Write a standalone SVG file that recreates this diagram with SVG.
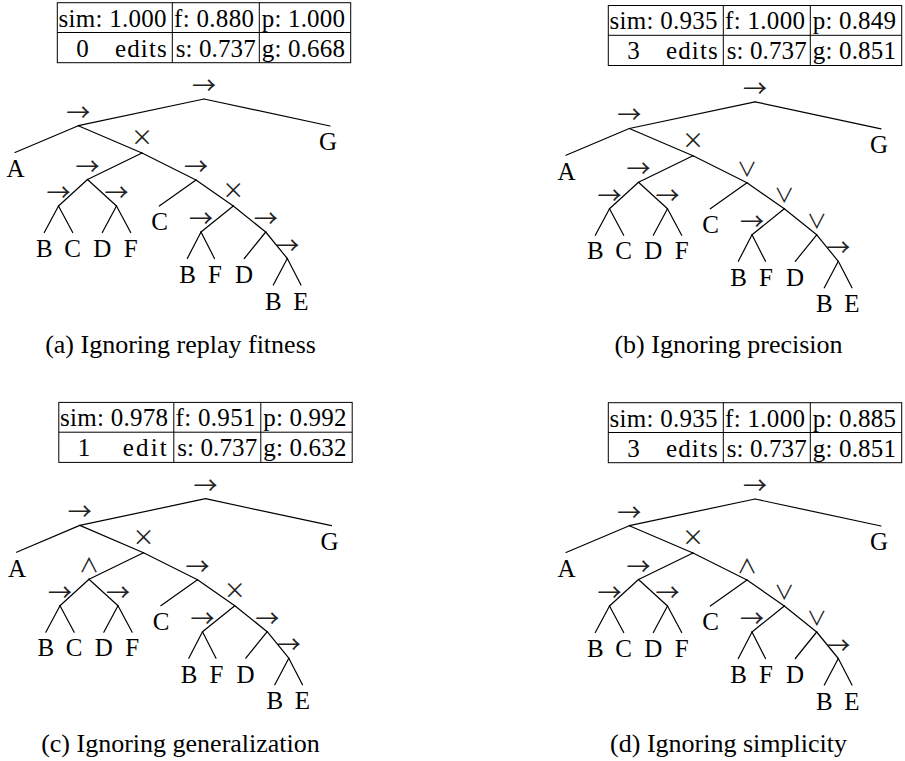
<svg xmlns="http://www.w3.org/2000/svg" width="905" height="761" viewBox="0 0 905 761">
  <style>
    .bg { fill: #ffffff; }
    .edge { stroke: #000; stroke-width: 1.2; stroke-linecap: round; fill: none; }
    .grid { stroke: #000; stroke-width: 1; fill: none; }
    text { font-family: "Liberation Serif", "DejaVu Serif", serif; fill: #000; }
    .cell { font-size: 25px; }
    .num { font-size: 25px; text-anchor: middle; }
    .leaf { font-size: 25px; text-anchor: middle; }
    .seq, .xor, .logic { text-anchor: middle; font-family: "Noto Sans CJK JP", "DejaVu Sans", sans-serif; fill: #222; }
    .seq { font-size: 24px; }
    .xor { font-size: 22px; }
    .logic { font-size: 20px; }
    .caption { font-size: 26px; text-anchor: middle; }
  </style>
  <rect class="bg" x="0" y="0" width="905" height="761"/>

  <!-- ===================== Panel (a) ===================== -->
  <g id="panel-a" transform="translate(0,0)">
    <g id="a-table">
      <rect class="grid" x="57.3" y="2.7" width="293.4" height="60"/>
      <line class="grid" x1="57.3" y1="32.5" x2="350.7" y2="32.5"/>
      <line class="grid" x1="172.3" y1="2.7" x2="172.3" y2="62.7"/>
      <line class="grid" x1="259.3" y1="2.7" x2="259.3" y2="62.7"/>
      <text class="cell" x="58.5" y="26.7" textLength="108" lengthAdjust="spacing">sim: 1.000</text>
      <text class="cell" x="174" y="26.7" textLength="80" lengthAdjust="spacing">f: 0.880</text>
      <text class="cell" x="261.7" y="26.7" textLength="83.3" lengthAdjust="spacing">p: 1.000</text>
      <text class="num" x="82.5" y="56.7">0</text>
      <text class="cell" x="115" y="56.7" textLength="51.7" lengthAdjust="spacing">edits</text>
      <text class="cell" x="175.7" y="56.7" textLength="80" lengthAdjust="spacing">s: 0.737</text>
      <text class="cell" x="261.7" y="56.7" textLength="83.3" lengthAdjust="spacing">g: 0.668</text>
    </g>
    <g id="a-connectors">
      <line class="edge" x1="204" y1="99" x2="78.3" y2="125.7"/>
      <line class="edge" x1="204" y1="99" x2="330" y2="126"/>
      <line class="edge" x1="78.3" y1="125.7" x2="15" y2="152.5"/>
      <line class="edge" x1="78.3" y1="125.7" x2="142" y2="153"/>
      <line class="edge" x1="142" y1="153" x2="87.5" y2="179.5"/>
      <line class="edge" x1="142" y1="153" x2="196" y2="180"/>
      <line class="edge" x1="87.5" y1="179.5" x2="58.5" y2="206"/>
      <line class="edge" x1="87.5" y1="179.5" x2="116.5" y2="206"/>
      <line class="edge" x1="58.5" y1="206" x2="44.3" y2="232.5"/>
      <line class="edge" x1="58.5" y1="206" x2="72.7" y2="232.5"/>
      <line class="edge" x1="116.5" y1="206" x2="102.3" y2="232.5"/>
      <line class="edge" x1="116.5" y1="206" x2="130.7" y2="232.5"/>
      <line class="edge" x1="196" y1="180" x2="159.3" y2="206"/>
      <line class="edge" x1="196" y1="180" x2="233.3" y2="206"/>
      <line class="edge" x1="233.3" y1="206" x2="201" y2="232"/>
      <line class="edge" x1="233.3" y1="206" x2="265.7" y2="232"/>
      <line class="edge" x1="201" y1="232" x2="187.3" y2="258.5"/>
      <line class="edge" x1="201" y1="232" x2="214.5" y2="258.5"/>
      <line class="edge" x1="265.7" y1="232" x2="244.3" y2="258.5"/>
      <line class="edge" x1="265.7" y1="232" x2="287.3" y2="258.5"/>
      <line class="edge" x1="287.3" y1="258.5" x2="273.3" y2="285"/>
      <line class="edge" x1="287.3" y1="258.5" x2="301" y2="285"/>
    </g>
    <g id="a-root"><text class="seq" x="204" y="94">→</text></g>
    <g id="a-n1"><text class="seq" x="78.3" y="120.7">→</text></g>
    <g id="a-x1"><text class="xor" x="142" y="145">×</text></g>
    <g id="a-n11"><text class="seq" x="87.5" y="174.5">→</text></g>
    <g id="a-n111"><text class="seq" x="58.5" y="201">→</text></g>
    <g id="a-n112"><text class="seq" x="116.5" y="201">→</text></g>
    <g id="a-n12"><text class="seq" x="196" y="175">→</text></g>
    <g id="a-x2"><text class="xor" x="233.3" y="198">×</text></g>
    <g id="a-n21"><text class="seq" x="201" y="227">→</text></g>
    <g id="a-n22"><text class="seq" x="265.7" y="227">→</text></g>
    <g id="a-n23"><text class="seq" x="287.3" y="253.5">→</text></g>
    <g id="a-leaf-A"><text class="leaf" x="15.5" y="177">A</text></g>
    <g id="a-leaf-G"><text class="leaf" x="328" y="150">G</text></g>
    <g id="a-leaf-B1"><text class="leaf" x="44.3" y="256.5">B</text></g>
    <g id="a-leaf-C1"><text class="leaf" x="72.7" y="256.5">C</text></g>
    <g id="a-leaf-D1"><text class="leaf" x="102.3" y="256.5">D</text></g>
    <g id="a-leaf-F1"><text class="leaf" x="130.7" y="256.5">F</text></g>
    <g id="a-leaf-C2"><text class="leaf" x="159.5" y="230">C</text></g>
    <g id="a-leaf-B2"><text class="leaf" x="187.5" y="283">B</text></g>
    <g id="a-leaf-F2"><text class="leaf" x="215" y="283">F</text></g>
    <g id="a-leaf-D2"><text class="leaf" x="244" y="283">D</text></g>
    <g id="a-leaf-B3"><text class="leaf" x="273.3" y="309.5">B</text></g>
    <g id="a-leaf-E"><text class="leaf" x="301" y="309.5">E</text></g>
  </g>
  <text class="caption" x="180.5" y="353.3">(a) Ignoring replay fitness</text>

  <!-- ===================== Panel (b) ===================== -->
  <g id="panel-b" transform="translate(551,2.8)">
    <g id="b-table">
      <rect class="grid" x="57.3" y="2.7" width="293.4" height="60"/>
      <line class="grid" x1="57.3" y1="32.5" x2="350.7" y2="32.5"/>
      <line class="grid" x1="172.3" y1="2.7" x2="172.3" y2="62.7"/>
      <line class="grid" x1="259.3" y1="2.7" x2="259.3" y2="62.7"/>
      <text class="cell" x="58.5" y="26.7" textLength="108" lengthAdjust="spacing">sim: 0.935</text>
      <text class="cell" x="174" y="26.7" textLength="80" lengthAdjust="spacing">f: 1.000</text>
      <text class="cell" x="261.7" y="26.7" textLength="83.3" lengthAdjust="spacing">p: 0.849</text>
      <text class="num" x="82.5" y="56.7">3</text>
      <text class="cell" x="115" y="56.7" textLength="51.7" lengthAdjust="spacing">edits</text>
      <text class="cell" x="175.7" y="56.7" textLength="80" lengthAdjust="spacing">s: 0.737</text>
      <text class="cell" x="261.7" y="56.7" textLength="83.3" lengthAdjust="spacing">g: 0.851</text>
    </g>
    <g id="b-connectors">
      <line class="edge" x1="204" y1="99" x2="78.3" y2="125.7"/>
      <line class="edge" x1="204" y1="99" x2="330" y2="126"/>
      <line class="edge" x1="78.3" y1="125.7" x2="15" y2="152.5"/>
      <line class="edge" x1="78.3" y1="125.7" x2="142" y2="153"/>
      <line class="edge" x1="142" y1="153" x2="87.5" y2="179.5"/>
      <line class="edge" x1="142" y1="153" x2="196" y2="180"/>
      <line class="edge" x1="87.5" y1="179.5" x2="58.5" y2="206"/>
      <line class="edge" x1="87.5" y1="179.5" x2="116.5" y2="206"/>
      <line class="edge" x1="58.5" y1="206" x2="44.3" y2="232.5"/>
      <line class="edge" x1="58.5" y1="206" x2="72.7" y2="232.5"/>
      <line class="edge" x1="116.5" y1="206" x2="102.3" y2="232.5"/>
      <line class="edge" x1="116.5" y1="206" x2="130.7" y2="232.5"/>
      <line class="edge" x1="196" y1="180" x2="159.3" y2="206"/>
      <line class="edge" x1="196" y1="180" x2="233.3" y2="206"/>
      <line class="edge" x1="233.3" y1="206" x2="201" y2="232"/>
      <line class="edge" x1="233.3" y1="206" x2="265.7" y2="232"/>
      <line class="edge" x1="201" y1="232" x2="187.3" y2="258.5"/>
      <line class="edge" x1="201" y1="232" x2="214.5" y2="258.5"/>
      <line class="edge" x1="265.7" y1="232" x2="244.3" y2="258.5"/>
      <line class="edge" x1="265.7" y1="232" x2="287.3" y2="258.5"/>
      <line class="edge" x1="287.3" y1="258.5" x2="273.3" y2="285"/>
      <line class="edge" x1="287.3" y1="258.5" x2="301" y2="285"/>
    </g>
    <g id="b-root"><text class="seq" x="204" y="94">→</text></g>
    <g id="b-n1"><text class="seq" x="78.3" y="120.7">→</text></g>
    <g id="b-x1"><text class="xor" x="142" y="145">×</text></g>
    <g id="b-n11"><text class="seq" x="87.5" y="174.5">→</text></g>
    <g id="b-n111"><text class="seq" x="58.5" y="201">→</text></g>
    <g id="b-n112"><text class="seq" x="116.5" y="201">→</text></g>
    <g id="b-n12"><text class="logic" x="196" y="174">∨</text></g>
    <g id="b-x2"><text class="logic" x="233.3" y="200">∨</text></g>
    <g id="b-n21"><text class="seq" x="201" y="227">→</text></g>
    <g id="b-n22"><text class="logic" x="265.7" y="226">∨</text></g>
    <g id="b-n23"><text class="seq" x="287.3" y="253.5">→</text></g>
    <g id="b-leaf-A"><text class="leaf" x="15.5" y="177">A</text></g>
    <g id="b-leaf-G"><text class="leaf" x="328" y="150">G</text></g>
    <g id="b-leaf-B1"><text class="leaf" x="44.3" y="256.5">B</text></g>
    <g id="b-leaf-C1"><text class="leaf" x="72.7" y="256.5">C</text></g>
    <g id="b-leaf-D1"><text class="leaf" x="102.3" y="256.5">D</text></g>
    <g id="b-leaf-F1"><text class="leaf" x="130.7" y="256.5">F</text></g>
    <g id="b-leaf-C2"><text class="leaf" x="159.5" y="230">C</text></g>
    <g id="b-leaf-B2"><text class="leaf" x="187.5" y="283">B</text></g>
    <g id="b-leaf-F2"><text class="leaf" x="215" y="283">F</text></g>
    <g id="b-leaf-D2"><text class="leaf" x="244" y="283">D</text></g>
    <g id="b-leaf-B3"><text class="leaf" x="273.3" y="309.5">B</text></g>
    <g id="b-leaf-E"><text class="leaf" x="301" y="309.5">E</text></g>
  </g>
  <text class="caption" x="728.5" y="353.3">(b) Ignoring precision</text>

  <!-- ===================== Panel (c) ===================== -->
  <g id="panel-c" transform="translate(1.5,399.7)">
    <g id="c-table">
      <rect class="grid" x="57.3" y="2.7" width="293.4" height="60"/>
      <line class="grid" x1="57.3" y1="32.5" x2="350.7" y2="32.5"/>
      <line class="grid" x1="172.3" y1="2.7" x2="172.3" y2="62.7"/>
      <line class="grid" x1="259.3" y1="2.7" x2="259.3" y2="62.7"/>
      <text class="cell" x="58.5" y="26.7" textLength="108" lengthAdjust="spacing">sim: 0.978</text>
      <text class="cell" x="174" y="26.7" textLength="80" lengthAdjust="spacing">f: 0.951</text>
      <text class="cell" x="261.7" y="26.7" textLength="83.3" lengthAdjust="spacing">p: 0.992</text>
      <text class="num" x="82.5" y="56.7">1</text>
      <text class="cell" x="121.2" y="56.7" textLength="44" lengthAdjust="spacing">edit</text>
      <text class="cell" x="175.7" y="56.7" textLength="80" lengthAdjust="spacing">s: 0.737</text>
      <text class="cell" x="261.7" y="56.7" textLength="83.3" lengthAdjust="spacing">g: 0.632</text>
    </g>
    <g id="c-connectors">
      <line class="edge" x1="204" y1="99" x2="78.3" y2="125.7"/>
      <line class="edge" x1="204" y1="99" x2="330" y2="126"/>
      <line class="edge" x1="78.3" y1="125.7" x2="15" y2="152.5"/>
      <line class="edge" x1="78.3" y1="125.7" x2="142" y2="153"/>
      <line class="edge" x1="142" y1="153" x2="87.5" y2="179.5"/>
      <line class="edge" x1="142" y1="153" x2="196" y2="180"/>
      <line class="edge" x1="87.5" y1="179.5" x2="58.5" y2="206"/>
      <line class="edge" x1="87.5" y1="179.5" x2="116.5" y2="206"/>
      <line class="edge" x1="58.5" y1="206" x2="44.3" y2="232.5"/>
      <line class="edge" x1="58.5" y1="206" x2="72.7" y2="232.5"/>
      <line class="edge" x1="116.5" y1="206" x2="102.3" y2="232.5"/>
      <line class="edge" x1="116.5" y1="206" x2="130.7" y2="232.5"/>
      <line class="edge" x1="196" y1="180" x2="159.3" y2="206"/>
      <line class="edge" x1="196" y1="180" x2="233.3" y2="206"/>
      <line class="edge" x1="233.3" y1="206" x2="201" y2="232"/>
      <line class="edge" x1="233.3" y1="206" x2="265.7" y2="232"/>
      <line class="edge" x1="201" y1="232" x2="187.3" y2="258.5"/>
      <line class="edge" x1="201" y1="232" x2="214.5" y2="258.5"/>
      <line class="edge" x1="265.7" y1="232" x2="244.3" y2="258.5"/>
      <line class="edge" x1="265.7" y1="232" x2="287.3" y2="258.5"/>
      <line class="edge" x1="287.3" y1="258.5" x2="273.3" y2="285"/>
      <line class="edge" x1="287.3" y1="258.5" x2="301" y2="285"/>
    </g>
    <g id="c-root"><text class="seq" x="204" y="94">→</text></g>
    <g id="c-n1"><text class="seq" x="78.3" y="120.7">→</text></g>
    <g id="c-x1"><text class="xor" x="142" y="145">×</text></g>
    <g id="c-n11"><text class="logic" x="87.5" y="173.5">∧</text></g>
    <g id="c-n111"><text class="seq" x="58.5" y="201">→</text></g>
    <g id="c-n112"><text class="seq" x="116.5" y="201">→</text></g>
    <g id="c-n12"><text class="seq" x="196" y="175">→</text></g>
    <g id="c-x2"><text class="xor" x="233.3" y="198">×</text></g>
    <g id="c-n21"><text class="seq" x="201" y="227">→</text></g>
    <g id="c-n22"><text class="seq" x="265.7" y="227">→</text></g>
    <g id="c-n23"><text class="seq" x="287.3" y="253.5">→</text></g>
    <g id="c-leaf-A"><text class="leaf" x="15.5" y="177">A</text></g>
    <g id="c-leaf-G"><text class="leaf" x="328" y="150">G</text></g>
    <g id="c-leaf-B1"><text class="leaf" x="44.3" y="256.5">B</text></g>
    <g id="c-leaf-C1"><text class="leaf" x="72.7" y="256.5">C</text></g>
    <g id="c-leaf-D1"><text class="leaf" x="102.3" y="256.5">D</text></g>
    <g id="c-leaf-F1"><text class="leaf" x="130.7" y="256.5">F</text></g>
    <g id="c-leaf-C2"><text class="leaf" x="159.5" y="230">C</text></g>
    <g id="c-leaf-B2"><text class="leaf" x="187.5" y="283">B</text></g>
    <g id="c-leaf-F2"><text class="leaf" x="215" y="283">F</text></g>
    <g id="c-leaf-D2"><text class="leaf" x="244" y="283">D</text></g>
    <g id="c-leaf-B3"><text class="leaf" x="273.3" y="309.5">B</text></g>
    <g id="c-leaf-E"><text class="leaf" x="301" y="309.5">E</text></g>
  </g>
  <text class="caption" x="180.5" y="751.7">(c) Ignoring generalization</text>

  <!-- ===================== Panel (d) ===================== -->
  <g id="panel-d" transform="translate(551,400)">
    <g id="d-table">
      <rect class="grid" x="57.3" y="2.7" width="293.4" height="60"/>
      <line class="grid" x1="57.3" y1="32.5" x2="350.7" y2="32.5"/>
      <line class="grid" x1="172.3" y1="2.7" x2="172.3" y2="62.7"/>
      <line class="grid" x1="259.3" y1="2.7" x2="259.3" y2="62.7"/>
      <text class="cell" x="58.5" y="26.7" textLength="108" lengthAdjust="spacing">sim: 0.935</text>
      <text class="cell" x="174" y="26.7" textLength="80" lengthAdjust="spacing">f: 1.000</text>
      <text class="cell" x="261.7" y="26.7" textLength="83.3" lengthAdjust="spacing">p: 0.885</text>
      <text class="num" x="82.5" y="56.7">3</text>
      <text class="cell" x="115" y="56.7" textLength="51.7" lengthAdjust="spacing">edits</text>
      <text class="cell" x="175.7" y="56.7" textLength="80" lengthAdjust="spacing">s: 0.737</text>
      <text class="cell" x="261.7" y="56.7" textLength="83.3" lengthAdjust="spacing">g: 0.851</text>
    </g>
    <g id="d-connectors">
      <line class="edge" x1="204" y1="99" x2="78.3" y2="125.7"/>
      <line class="edge" x1="204" y1="99" x2="330" y2="126"/>
      <line class="edge" x1="78.3" y1="125.7" x2="15" y2="152.5"/>
      <line class="edge" x1="78.3" y1="125.7" x2="142" y2="153"/>
      <line class="edge" x1="142" y1="153" x2="87.5" y2="179.5"/>
      <line class="edge" x1="142" y1="153" x2="196" y2="180"/>
      <line class="edge" x1="87.5" y1="179.5" x2="58.5" y2="206"/>
      <line class="edge" x1="87.5" y1="179.5" x2="116.5" y2="206"/>
      <line class="edge" x1="58.5" y1="206" x2="44.3" y2="232.5"/>
      <line class="edge" x1="58.5" y1="206" x2="72.7" y2="232.5"/>
      <line class="edge" x1="116.5" y1="206" x2="102.3" y2="232.5"/>
      <line class="edge" x1="116.5" y1="206" x2="130.7" y2="232.5"/>
      <line class="edge" x1="196" y1="180" x2="159.3" y2="206"/>
      <line class="edge" x1="196" y1="180" x2="233.3" y2="206"/>
      <line class="edge" x1="233.3" y1="206" x2="201" y2="232"/>
      <line class="edge" x1="233.3" y1="206" x2="265.7" y2="232"/>
      <line class="edge" x1="201" y1="232" x2="187.3" y2="258.5"/>
      <line class="edge" x1="201" y1="232" x2="214.5" y2="258.5"/>
      <line class="edge" x1="265.7" y1="232" x2="244.3" y2="258.5"/>
      <line class="edge" x1="265.7" y1="232" x2="287.3" y2="258.5"/>
      <line class="edge" x1="287.3" y1="258.5" x2="273.3" y2="285"/>
      <line class="edge" x1="287.3" y1="258.5" x2="301" y2="285"/>
    </g>
    <g id="d-root"><text class="seq" x="204" y="94">→</text></g>
    <g id="d-n1"><text class="seq" x="78.3" y="120.7">→</text></g>
    <g id="d-x1"><text class="xor" x="142" y="145">×</text></g>
    <g id="d-n11"><text class="seq" x="87.5" y="174.5">→</text></g>
    <g id="d-n111"><text class="seq" x="58.5" y="201">→</text></g>
    <g id="d-n112"><text class="seq" x="116.5" y="201">→</text></g>
    <g id="d-n12"><text class="logic" x="196" y="174">∧</text></g>
    <g id="d-x2"><text class="logic" x="233.3" y="200">∨</text></g>
    <g id="d-n21"><text class="seq" x="201" y="227">→</text></g>
    <g id="d-n22"><text class="logic" x="265.7" y="226">∨</text></g>
    <g id="d-n23"><text class="seq" x="287.3" y="253.5">→</text></g>
    <g id="d-leaf-A"><text class="leaf" x="15.5" y="177">A</text></g>
    <g id="d-leaf-G"><text class="leaf" x="328" y="150">G</text></g>
    <g id="d-leaf-B1"><text class="leaf" x="44.3" y="256.5">B</text></g>
    <g id="d-leaf-C1"><text class="leaf" x="72.7" y="256.5">C</text></g>
    <g id="d-leaf-D1"><text class="leaf" x="102.3" y="256.5">D</text></g>
    <g id="d-leaf-F1"><text class="leaf" x="130.7" y="256.5">F</text></g>
    <g id="d-leaf-C2"><text class="leaf" x="159.5" y="230">C</text></g>
    <g id="d-leaf-B2"><text class="leaf" x="187.5" y="283">B</text></g>
    <g id="d-leaf-F2"><text class="leaf" x="215" y="283">F</text></g>
    <g id="d-leaf-D2"><text class="leaf" x="244" y="283">D</text></g>
    <g id="d-leaf-B3"><text class="leaf" x="273.3" y="309.5">B</text></g>
    <g id="d-leaf-E"><text class="leaf" x="301" y="309.5">E</text></g>
  </g>
  <text class="caption" x="728.5" y="752">(d) Ignoring simplicity</text>
</svg>
